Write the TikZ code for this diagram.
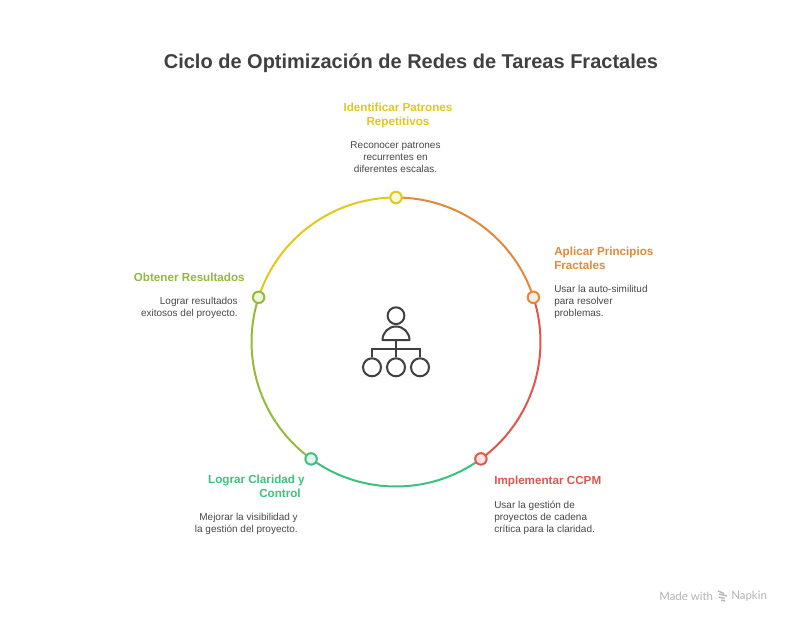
\documentclass[tikz,border=0pt]{standalone}
\usepackage{fontspec}
\setmainfont{Liberation Sans}
\newfontfamily\madefont{Lato}
\usetikzlibrary{positioning}
\definecolor{cyellow}{HTML}{E2C81B}
\definecolor{corange}{HTML}{E08A3A}
\definecolor{cred}{HTML}{E0564F}
\definecolor{cgreen}{HTML}{3BC27F}
\definecolor{colive}{HTML}{94BA38}
\definecolor{ctext}{HTML}{404040}
\definecolor{cbody}{HTML}{484848}
\definecolor{cmade}{HTML}{B4B4B4}
\tikzstyle{ring} = [line width=1.5pt]
\tikzstyle{marker} = [circle, draw, line width=1.5pt, minimum size=8.6pt, inner sep=0pt]
\tikzstyle{head} = [inner sep=0pt, font=\fontsize{8.75}{10.5}\selectfont\bfseries]
\tikzstyle{body} = [inner sep=0pt, text=cbody, font=\fontsize{7.5}{9.1}\selectfont]
\tikzstyle{icon} = [draw=ctext, line width=1.5pt]
\tikzstyle{small} = [circle, icon, minimum size=13.5pt, inner sep=0pt]
\begin{document}
\begin{tikzpicture}[x=0.75pt, y=-0.75pt]
    \useasboundingbox (0,0) rectangle (792,624);
    \fill[white] (0,0) rectangle (792,624);
    \node [inner sep=0pt, text=ctext, font=\fontsize{15}{18}\selectfont\bfseries] (title) at (411,63) {Ciclo de Optimización de Redes de Tareas Fractales};

    % ring
    \coordinate (ptop) at (396,197.5);
    \coordinate (pright) at (533.4,297.3);
    \coordinate (pred) at (480.9,458.9);
    \coordinate (pgreen) at (311.1,458.9);
    \coordinate (pleft) at (258.6,297.3);
    \draw [ring, corange] (ptop) arc (-90:-18:144.5);
    \draw [ring, cred] (pright) arc (-18:54:144.5);
    \draw [ring, cgreen] (pred) arc (54:126:144.5);
    \draw [ring, colive] (pgreen) arc (126:198:144.5);
    \draw [ring, cyellow] (pleft) arc (198:270:144.5);
    \node [marker, draw=cyellow, fill=cyellow!15] (mtop) at (ptop) {};
    \node [marker, draw=corange, fill=corange!15] (mright) at (pright) {};
    \node [marker, draw=cred, fill=cred!15] (mred) at (pred) {};
    \node [marker, draw=cgreen, fill=cgreen!15] (mgreen) at (pgreen) {};
    \node [marker, draw=colive, fill=colive!15] (mleft) at (pleft) {};

    % labels
    \node [head, text=cyellow, align=center, anchor=north] (htop) at (398,102.5) {Identificar Patrones\\Repetitivos};
    \node [body, align=center, anchor=north] (btop) at (395.5,141.5) {Reconocer patrones\\recurrentes en\\diferentes escalas.};
    \node [head, text=corange, align=left, anchor=north west] (hright) at (554,247) {Aplicar Principios\\Fractales};
    \node [body, align=left, anchor=north west] (bright) at (554,284.5) {Usar la auto-similitud\\para resolver\\problemas.};
    \node [head, text=cred, anchor=north west] (hred) at (494,475.5) {Implementar CCPM};
    \node [body, align=left, anchor=north west] (bred) at (494,500.5) {Usar la gestión de\\proyectos de cadena\\crítica para la claridad.};
    \node [head, text=cgreen, align=right, anchor=north east] (hgreen) at (305,475) {Lograr Claridad y\\Control\hbox to 3pt{}};
    \node [body, align=right, anchor=north east] (bgreen) at (298,513) {Mejorar la visibilidad y\\la gestión del proyecto.};
    \node [head, text=colive, anchor=north east] (hleft) at (245,272.5) {Obtener Resultados};
    \node [body, align=right, anchor=north east] (bleft) at (238,296.5) {Lograr resultados\\exitosos del proyecto.};

    % center icon
    \node [small, minimum size=12.6pt] (person) at (396,315.7) {};
    \coordinate (bodyl) at (382.5,340);
    \coordinate (bodyr) at (409.5,340);
    \draw [icon, line join=round] (bodyl) arc (180:360:13.5) -- cycle;
    \node [small] (sub1) at (372,367.3) {};
    \node [small] (sub2) at (396,367.3) {};
    \node [small] (sub3) at (420,367.3) {};
    \coordinate (stem) at (396,340);
    \coordinate (fork) at (396,349.3);
    \draw [icon] (stem) -- (sub2);
    \draw [icon] (fork) -| (sub1);
    \draw [icon] (fork) -| (sub3);

    % footer
    \node [inner sep=0pt, text=cmade, font=\madefont\fontsize{8.6}{10}\selectfont, anchor=west] (made) at (659,596.5) {Made with};
    \node [inner sep=0pt, text=cmade, font=\madefont\fontsize{8.6}{10}\selectfont, anchor=west] (napkin) at (731,596.5) {Napkin};
    \draw [cmade, line width=1pt] (718,591) -- (724,593.5) (719,594) -- (727,596) (719,597) -- (725,598.5) (721,600) -- (725,601);
\end{tikzpicture}
\end{document}
